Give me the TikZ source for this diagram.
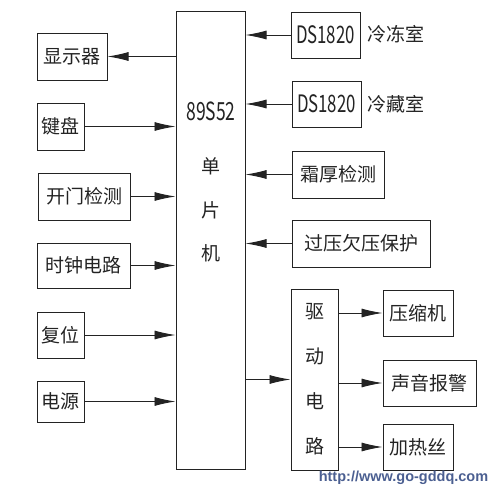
\documentclass[tikz,border=0pt]{standalone}
\usepackage{fontspec}
\setmainfont{Noto Sans CJK SC}
\newfontfamily\narrowfont[FakeStretch=0.7]{Noto Sans CJK SC}
\newfontfamily\webfont{Liberation Sans}
\usetikzlibrary{arrows.meta}
\definecolor{ink}{RGB}{35,35,35}
\definecolor{wmblue}{RGB}{75,95,145}
\begin{document}
\begin{tikzpicture}[x=1pt,y=-1pt,
  every node/.style={font=\fontsize{19}{21}\selectfont,text=ink,inner sep=0pt},
  blk/.style={draw=ink,line width=1pt},
  arr/.style={-{Latex[length=21pt,width=9pt]},draw=ink,line width=0.9pt}]
\useasboundingbox (0,0) rectangle (498,493);
% microcontroller in the middle
\node[blk,minimum width=69pt,minimum height=458pt] (mcu) at (210.5,240) {};
\node[font=\fontsize{25}{27}\narrowfont] (chip) at (211,111) {89S52};
\node[align=center,font=\fontsize{19}{43.5}\selectfont] (mcuname) at (211,210) {单\\片\\机};
% inputs on the left
\node[blk,minimum width=70pt,minimum height=47pt] (disp) at (72,56.5) {显示器};
\node[blk,minimum width=47pt,minimum height=47pt] (key) at (60.5,126.5) {键盘};
\node[blk,minimum width=92pt,minimum height=47pt] (door) at (84,196.5) {开门检测};
\node[blk,minimum width=93pt,minimum height=45pt] (clk) at (83.5,265.5) {时钟电路};
\node[blk,minimum width=47pt,minimum height=46pt] (rst) at (60.5,335) {复位};
\node[blk,minimum width=47pt,minimum height=41pt] (pwr) at (60.5,401.5) {电源};
\draw[arr] (disp.east -| mcu.west) -- (disp.east);
\draw[arr] (key.east) -- (key.east -| mcu.west);
\draw[arr] (door.east) -- (door.east -| mcu.west);
\draw[arr] (clk.east) -- (clk.east -| mcu.west);
\draw[arr] (rst.east) -- (rst.east -| mcu.west);
\draw[arr] (pwr.east) -- (pwr.east -| mcu.west);
% sensors on the right
\node[blk,minimum width=69pt,minimum height=46pt,font=\fontsize{24}{26}\narrowfont] (ds1) at (325.5,35) {DS1820};
\node (ds1lbl) at (396,34) {冷冻室};
\node[blk,minimum width=69pt,minimum height=46pt,font=\fontsize{24}{26}\narrowfont] (ds2) at (326.5,104) {DS1820};
\node (ds2lbl) at (396,104) {冷藏室};
\node[blk,minimum width=92pt,minimum height=47pt] (frost) at (338,174.5) {霜厚检测};
\node[blk,minimum width=138pt,minimum height=47pt] (volt) at (361,243.5) {过压欠压保护};
\draw[arr] (ds1.west) -- (ds1.west -| mcu.east);
\draw[arr] (ds2.west) -- (ds2.west -| mcu.east);
\draw[arr] (frost.west) -- (frost.west -| mcu.east);
\draw[arr] (volt.west) -- (volt.west -| mcu.east);
% driver and loads
\node[blk,minimum width=47pt,minimum height=181pt,align=center,font=\fontsize{19}{45}\selectfont] (drv) at (314.5,379.5) {驱\\动\\电\\路};
\node[blk,minimum width=70pt,minimum height=46pt] (comp) at (418,313) {压缩机};
\node[blk,minimum width=93pt,minimum height=46pt] (alarm) at (429.5,383) {声音报警};
\node[blk,minimum width=70pt,minimum height=46pt] (heat) at (418,447) {加热丝};
\draw[arr] (mcu.east |- drv.west) -- (drv.west);
\draw[arr] (drv.east |- comp.west) -- (comp.west);
\draw[arr] (drv.east |- alarm.west) -- (alarm.west);
\draw[arr] (drv.east |- heat.west) -- (heat.west);
% watermark
\node[text=wmblue,font=\fontsize{14.5}{16}\webfont\bfseries] (web) at (403.5,478) {http://www.go-gddq.com};
\end{tikzpicture}
\end{document}
